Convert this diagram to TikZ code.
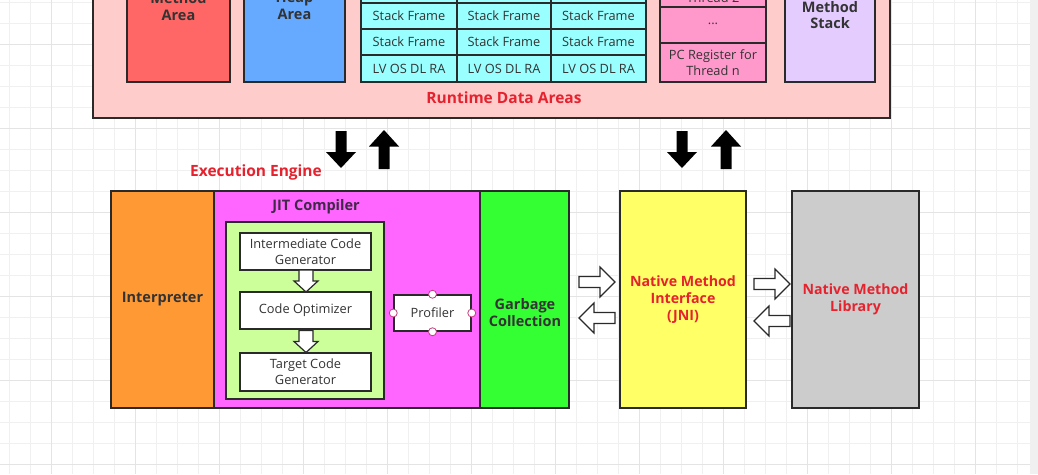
\documentclass[tikz,border=0pt]{standalone}
\usepackage{fontspec}
\setmainfont{Open Sans}
\definecolor{linec}{HTML}{2A2A2A}
\definecolor{txt}{HTML}{333333}
\definecolor{redt}{HTML}{E5222E}
\definecolor{rtbg}{HTML}{FFCCCC}
\definecolor{methc}{HTML}{FF6666}
\definecolor{heapc}{HTML}{66AAFF}
\definecolor{stackc}{HTML}{99FFFF}
\definecolor{pcc}{HTML}{FF99CC}
\definecolor{nmsc}{HTML}{E5CCFF}
\definecolor{interc}{HTML}{FF9933}
\definecolor{jitc}{HTML}{FF66FF}
\definecolor{jitin}{HTML}{CCFF99}
\definecolor{gcc}{HTML}{33FF33}
\definecolor{jnic}{HTML}{FFFF66}
\definecolor{libc}{HTML}{CCCCCC}
\definecolor{gridmin}{HTML}{F0F0F0}
\definecolor{gridmaj}{HTML}{E4E4E4}
\definecolor{handlec}{HTML}{C0407A}
\definecolor{jittxt}{HTML}{402848}
\tikzset{
  box/.style={draw=linec, line width=1.5pt, inner sep=0pt},
  lbl/.style={font=\fontsize{14.5}{17}\selectfont\bfseries, text=txt, align=center, inner sep=0pt},
  reg/.style={font=\fontsize{12.8}{16}\selectfont, text=txt, align=center, inner sep=0pt},
  redl/.style={font=\fontsize{14.2}{17}\selectfont\bfseries, text=redt, align=center, inner sep=0pt},
  title/.style={font=\fontsize{15.5}{18}\selectfont\bfseries, text=redt, inner sep=0pt},
  hollow/.style={draw=linec, fill=white, line width=1.2pt, line join=miter},
  handle/.style={circle, draw=handlec, fill=white, inner sep=0pt, minimum size=8pt, line width=0.8pt},
  blkdown/.pic={\fill[black] (-5.5,-18.5) -- (5.5,-18.5) -- (5.5,2.5) -- (15,2.5) -- (0,18.5) -- (-15,2.5) -- (-5.5,2.5) -- cycle;},
  blkup/.pic={\fill[black] (-5.5,19.5) -- (5.5,19.5) -- (5.5,-3) -- (15,-3) -- (0,-19.5) -- (-15,-3) -- (-5.5,-3) -- cycle;},
  holright/.pic={\draw[hollow] (-18,-5.5) -- (3,-5.5) -- (3,-15) -- (18,0) -- (3,15) -- (3,5.5) -- (-18,5.5) -- cycle;},
  holleft/.pic={\draw[hollow] (18,-5.5) -- (-3,-5.5) -- (-3,-15) -- (-18,0) -- (-3,15) -- (-3,5.5) -- (18,5.5) -- cycle;},
  holdown/.pic={\draw[hollow] (-7,-11) -- (7,-11) -- (7,0) -- (12,0) -- (0,11) -- (-12,0) -- (-7,0) -- cycle;},
}
% box by corners: name, x1, y1, x2, y2, style, text
\newcommand\bx[7]{\node[box,#6, minimum width={(#4)-(#2)}, minimum height={(#5)-(#3)}] (#1) at ({((#2)+(#4))/2},{((#3)+(#5))/2}) {#7};}
\begin{document}
\begin{tikzpicture}[x=1pt,y=-1pt]
\useasboundingbox (0,0) rectangle (1038,474);
\clip (0,0) rectangle (1038,474);
\fill[white] (0,0) rectangle (1038,474);
% background grid
\foreach \i in {0,...,49} {\draw[gridmin, line width=0.8pt] (9+21*\i,0) -- (9+21*\i,474);}
\foreach \i in {0,...,22} {\draw[gridmin, line width=0.8pt] (0,2+21*\i) -- (1038,2+21*\i);}
\foreach \i in {0,...,12} {\draw[gridmaj, line width=0.8pt] (51+84*\i,0) -- (51+84*\i,474);}
\foreach \i in {0,...,5} {\draw[gridmaj, line width=0.8pt] (0,44+84*\i) -- (1038,44+84*\i);}
\fill[gridmin] (1030,0) rectangle (1038,474);

% Runtime data areas
\bx{rt}{93}{-30}{890}{118}{fill=rtbg}{}
\bx{ma}{127}{-30}{230}{82}{fill=methc}{}
\node[lbl] (matxt) at (178.5,6.5) {Method\\Area};
\bx{ha}{244}{-30}{345}{82}{fill=heapc}{}
\node[lbl] (hatxt) at (294.5,5.5) {Heap\\Area};
% stacks
\foreach \c/\xa/\xb in {1/361/457, 2/457/551, 3/551/646} {
  \bx{s\c a}{\xa}{-23}{\xb}{3}{fill=stackc, reg}{Stack Frame}
  \bx{s\c b}{\xa}{3}{\xb}{29}{fill=stackc, reg}{Stack Frame}
  \bx{s\c c}{\xa}{29}{\xb}{55}{fill=stackc, reg}{Stack Frame}
  \bx{s\c d}{\xa}{55}{\xb}{82}{fill=stackc, reg}{LV OS DL RA}
}
% PC registers
\bx{pc2}{660}{-30}{766}{7}{fill=pcc}{}
\node[reg] (pc2txt) at (713,-10) {PC Register for\\Thread 2};
\bx{pcd}{660}{7}{766}{43}{fill=pcc}{}
\node[reg] (pcdtxt) at (713,24) {...};
\bx{pcn}{660}{43}{766}{82}{fill=pcc, reg}{PC Register for\\Thread n}
% native method stack
\bx{nms}{785}{-30}{875}{82}{fill=nmsc}{}
\node[lbl, font=\fontsize{14.5}{16}\selectfont\bfseries] (nmstxt) at (830,7) {Native\\Method\\Stack};
\node[title] (rttxt) at (504,98) {Runtime Data Areas};

% vertical black arrows
\pic at (341,149.5) {blkdown};
\pic at (384,149.5) {blkup};
\pic at (682,149.5) {blkdown};
\pic at (726,149.5) {blkup};

\node[title] (ee) at (256,172) {Execution Engine};

% execution engine
\bx{interp}{111}{191}{214}{408}{fill=interc, lbl}{Interpreter}
\bx{jit}{214}{191}{480}{408}{fill=jitc}{}
\node[lbl, text=jittxt] (jittxt) at (316,207) {JIT Compiler};
\bx{jitin}{226}{222}{384}{399}{fill=jitin}{}
\bx{icg}{240}{233}{371}{270}{fill=white, reg}{Intermediate Code\\Generator}
\bx{co}{240}{292}{371}{329}{fill=white, reg}{Code Optimizer}
\bx{tcg}{240}{353}{371}{391}{fill=white, reg}{Target Code\\Generator}
\pic at (306,281) {holdown};
\pic at (306,341.5) {holdown};
\bx{prof}{394}{295}{471}{331}{fill=white, reg}{Profiler}
\node[handle] (h1) at (prof.north) {};
\node[handle] (h2) at (prof.south) {};
\node[handle] (h3) at (prof.west) {};
\node[handle] (h4) at (prof.east) {};
\bx{gc}{480}{191}{569}{408}{fill=gcc}{}
\node[lbl] (gctxt) at (525,313) {Garbage\\Collection};
\bx{jni}{620}{191}{746}{408}{fill=jnic, redl}{Native Method\\Interface\\(JNI)}
\bx{lib}{792}{191}{919}{408}{fill=libc, redl}{Native Method\\Library}

% hollow horizontal arrows
\pic at (597,282) {holright};
\pic at (597,318) {holleft};
\pic at (772,284) {holright};
\pic at (772,321) {holleft};
\end{tikzpicture}
\end{document}
